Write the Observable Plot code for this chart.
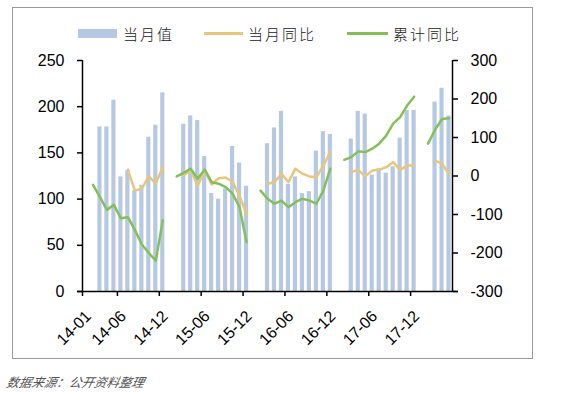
<!DOCTYPE html>
<html>
<head>
<meta charset="utf-8">
<script src="https://cdn.jsdelivr.net/npm/d3@7"></script>
<script src="https://cdn.jsdelivr.net/npm/@observablehq/plot@0.6"></script>
<style>
  html, body { margin: 0; padding: 0; background: #fff; }
  #wrap { position: relative; width: 563px; height: 394px; overflow: hidden; font-family: "Liberation Sans", Arial, sans-serif; }
  #frame { position: absolute; left: 12px; top: 7px; width: 519px; height: 350px; border: 1px solid #9a9a9a; box-sizing: content-box; pointer-events: none; }
  .leg { position: absolute; font-family: "Noto Sans CJK SC", sans-serif; font-weight: 300; font-size: 15px; letter-spacing: 2px; color: #222; line-height: 15px; }
  .sw { position: absolute; }
  #caption { position: absolute; left: 5px; top: 372px; font-family: "Noto Sans CJK SC", sans-serif; font-style: italic; font-size: 12.5px; color: #555; transform: skewX(-12deg); transform-origin: left bottom; }
  #chart { position: absolute; left: 0; top: 0; }
</style>
</head>
<body>
<div id="wrap">
  <div id="frame"></div>
  <div id="chart"></div>
  <div class="sw" id="sw1" style="left:78px;top:29px;width:39px;height:9px;background:#b7c9e2;"></div>
  <div class="leg" style="left:123px;top:26px;">当月值</div>
  <div class="sw" id="sw2" style="left:204px;top:32px;width:39px;height:2.5px;background:#e8c67e;"></div>
  <div class="leg" style="left:248px;top:26px;">当月同比</div>
  <div class="sw" id="sw3" style="left:347px;top:32px;width:41px;height:2.5px;background:#84c05a;"></div>
  <div class="leg" style="left:393px;top:26px;">累计同比</div>
  <div id="caption">数据来源：公开资料整理</div>
</div>
<script>
// Categories: months 2014-01 .. 2018-05
const months = [
  "14-01","14-02","14-03","14-04","14-05","14-06","14-07","14-08","14-09","14-10","14-11","14-12",
  "15-01","15-02","15-03","15-04","15-05","15-06","15-07","15-08","15-09","15-10","15-11","15-12",
  "16-01","16-02","16-03","16-04","16-05","16-06","16-07","16-08","16-09","16-10","16-11","16-12",
  "17-01","17-02","17-03","17-04","17-05","17-06","17-07","17-08","17-09","17-10","17-11","17-12",
  "18-01","18-02","18-03","18-04","18-05"
];
// 当月值 (left axis)
const monthValue = [
  null,null,178,178,207,124,131,109,115,167,180,215,
  null,null,181,190,185,146,106,100,111,157,139,114,
  null,null,160,177,195,116,124,106,108,152,173,170,
  null,null,165,195,192,126,133,128,135,166,196,196,
  null,null,205,220,190
];
// 当月同比 (right axis, %)
const monthYoY = [
  null,null,null,null,null,null,16,-38,-33,-1,-19,23,
  null,null,2,15,-25,15,-22,-6,-4,-15,-52,-100,
  null,null,-20,-16,6,-16,19,6,-1,-3,27,62,
  null,null,10,16,-1,14,16,23,36,16,27,27,
  null,null,40,32,5
];
// 累计同比 (right axis, %)
const cumYoY = [
  null,-23,-55,-88,-75,-110,-107,-140,-178,-200,-220,-115,
  null,-1,8,19,-7,17,-16,-20,-29,-46,-81,-172,
  null,-38,-59,-72,-64,-81,-68,-59,-64,-72,-38,19,
  null,42,49,64,62,71,84,105,136,153,183,206,
  null,84,120,148,150
];
const xTickLabels = ["14-01","14-06","14-12","15-06","15-12","16-06","16-12","17-06","17-12"];
const leftTicks = [0,50,100,150,200,250];
const rightTicks = [-300,-200,-100,0,100,200,300];

const LMIN = 0, LMAX = 250, RMIN = -300, RMAX = 300;
const toLeft = w => w == null ? null : (w - RMIN) * (LMAX - LMIN) / (RMAX - RMIN) + LMIN;
const fromLeft = v => Math.round((v - LMIN) * (RMAX - RMIN) / (LMAX - LMIN) + RMIN);

const bars = months.map((m, i) => ({i, m, v: monthValue[i]})).filter(d => d.v != null);
const yoy = months.map((m, i) => ({i, m, w: monthYoY[i]}));
const cum = months.map((m, i) => ({i, m, w: cumYoY[i]}));
const tickIdx = xTickLabels.map(l => months.indexOf(l));

const chart = Plot.plot({
  width: 563,
  height: 394,
  marginLeft: 82,
  marginRight: 111,
  marginTop: 60,
  marginBottom: 103,
  style: {fontFamily: "'Liberation Sans', Arial, sans-serif", background: "transparent", overflow: "visible"},
  x: {type: "linear", domain: [0, months.length], axis: null},
  y: {domain: [LMIN, LMAX], axis: null},
  marks: [
    Plot.rectY(bars, {x1: d => d.i + 0.2, x2: d => d.i + 0.8, y: "v", fill: "#b7c9e2"}),
    Plot.line(yoy, {x: d => d.i + 0.5, y: d => toLeft(d.w), stroke: "#e8c67e", strokeWidth: 2.5, curve: "linear"}),
    Plot.line(cum, {x: d => d.i + 0.5, y: d => toLeft(d.w), stroke: "#84c05a", strokeWidth: 2.5, curve: "linear"}),
    Plot.ruleX([0, months.length], {stroke: "#000", strokeWidth: 1.5}),
    Plot.ruleY([0], {stroke: "#000", strokeWidth: 1.5, insetLeft: -5, insetRight: -6}),
    Plot.axisY({anchor: "left", label: null, ticks: leftTicks, tickSize: 5, tickPadding: 13, fontSize: 16, strokeWidth: 1.5, color: "#000"}),
    Plot.axisY({anchor: "right", label: null, ticks: rightTicks.map(toLeft), tickFormat: v => String(fromLeft(v)), tickSize: 5, tickPadding: 13, fontSize: 16, strokeWidth: 1.5, color: "#000"}),
    Plot.axisX({label: null, ticks: tickIdx, text: null, tickSize: 5, strokeWidth: 1.5, color: "#000"}),
    Plot.axisX({label: null, ticks: tickIdx, tickFormat: i => months[i], tickRotate: -45, tickSize: 0, tickPadding: 22, dx: 6, fontSize: 16, color: "#000"})
  ]
});
document.getElementById("chart").appendChild(chart);
</script>
</body>
</html>
